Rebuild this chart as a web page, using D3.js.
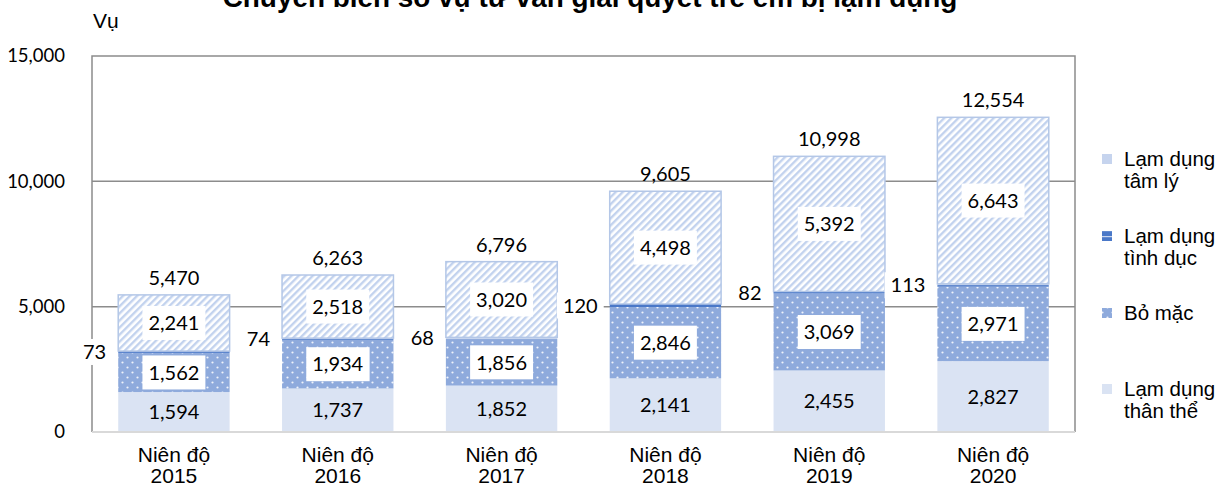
<!DOCTYPE html>
<html>
<head>
<meta charset="utf-8">
<script src="https://cdn.jsdelivr.net/npm/d3@7"></script>
<style>
  body { margin: 0; background: #fff; }
  svg { display: block; }
</style>
</head>
<body>
<svg id="chart" width="1224" height="486"></svg>
<script>
'use strict';

// data
const years = ['2015', '2016', '2017', '2018', '2019', '2020'];
const thanThe = [1594, 1737, 1852, 2141, 2455, 2827];
const boMac = [1562, 1934, 1856, 2846, 3069, 2971];
const tinhDuc = [73, 74, 68, 120, 82, 113];
const tamLy = [2241, 2518, 3020, 4498, 5392, 6643];
const yTicks = [0, 5000, 10000, 15000];

const seriesKeys = ['thanThe', 'boMac', 'tinhDuc', 'tamLy'];
const legendLabels = [
  { key: 'tamLy', lines: ['Lạm dụng', 'tâm lý'], y: 159 },
  { key: 'tinhDuc', lines: ['Lạm dụng', 'tình dục'], y: 236 },
  { key: 'boMac', lines: ['Bỏ mặc'], y: 313 },
  { key: 'thanThe', lines: ['Lạm dụng', 'thân thể'], y: 389 }
];

const rows = years.map((y, i) => ({
  year: y,
  thanThe: thanThe[i],
  boMac: boMac[i],
  tinhDuc: tinhDuc[i],
  tamLy: tamLy[i]
}));

const svg = d3.select('#chart');
const plot = { left: 92, right: 1075, top: 56, bottom: 432 };

const fmt = d3.format(',');
const numFont = 'Lato, "Open Sans", sans-serif';
const txtFont = '"Liberation Sans", Arial, sans-serif';

// patterns
const defs = svg.append('defs');

const stripes = defs.append('pattern')
  .attr('id', 'pat-tamLy')
  .attr('patternUnits', 'userSpaceOnUse')
  .attr('width', 5).attr('height', 5)
  .attr('patternTransform', 'rotate(45)');
stripes.append('rect').attr('width', 5).attr('height', 5).attr('fill', '#ffffff');
stripes.append('rect').attr('width', 2.4).attr('height', 5).attr('fill', '#c2d2ee');

const dots = defs.append('pattern')
  .attr('id', 'pat-boMac')
  .attr('patternUnits', 'userSpaceOnUse')
  .attr('width', 10).attr('height', 10);
dots.append('rect').attr('width', 10).attr('height', 10).attr('fill', '#8eaadc');
dots.append('circle').attr('cx', 2.5).attr('cy', 2.5).attr('r', 1.1).attr('fill', '#eef2fa');
dots.append('circle').attr('cx', 7.5).attr('cy', 7.5).attr('r', 1.1).attr('fill', '#eef2fa');

const weave = defs.append('pattern')
  .attr('id', 'pat-tinhDuc')
  .attr('patternUnits', 'userSpaceOnUse')
  .attr('width', 6).attr('height', 6);
weave.append('rect').attr('width', 6).attr('height', 6).attr('fill', '#4a78c8');
weave.append('rect').attr('x', 0).attr('y', 2).attr('width', 6).attr('height', 1.2).attr('fill', '#c9d6ef');

const fills = {
  thanThe: '#dae3f3',
  boMac: 'url(#pat-boMac)',
  tinhDuc: 'url(#pat-tinhDuc)',
  tamLy: 'url(#pat-tamLy)'
};

// scales
const x = d3.scaleBand()
  .domain(years)
  .range([plot.left, plot.right])
  .paddingInner(0.32)
  .paddingOuter(0.16);

const y = d3.scaleLinear()
  .domain([0, 15000])
  .range([plot.bottom, plot.top]);

// title (partly cut off at the top, as in the source)
const title = svg.append('text')
  .attr('x', 590).attr('y', 7)
  .attr('text-anchor', 'middle')
  .style('font-family', txtFont)
  .style('font-weight', 'bold')
  .style('font-size', '22px')
  .text('Chuyển biến số vụ tư vấn giải quyết trẻ em bị lạm dụng');
const titleLen = title.node().getComputedTextLength();
title.style('font-size', (22 * 735 / titleLen).toFixed(1) + 'px');

svg.append('text')
  .attr('x', 93).attr('y', 28)
  .style('font-family', txtFont)
  .style('font-size', '21px')
  .text('Vụ');

// gridlines
svg.append('g')
  .selectAll('line')
  .data(yTicks.filter(t => t > 0 && t < 15000))
  .join('line')
  .attr('x1', plot.left).attr('x2', plot.right)
  .attr('y1', d => y(d)).attr('y2', d => y(d))
  .attr('stroke', '#8c8c8c')
  .attr('stroke-width', 1.5);

// frame: left, top, right in gray; bottom lighter
svg.append('path')
  .attr('d', `M${plot.left},${plot.bottom}V${plot.top}H${plot.right}V${plot.bottom}`)
  .attr('fill', 'none')
  .attr('stroke', '#8c8c8c')
  .attr('stroke-width', 1.5);

// y axis labels
const yAxis = d3.axisLeft(y).tickValues(yTicks).tickFormat(fmt).tickSize(0).tickPadding(27);
const yAxisG = svg.append('g')
  .attr('transform', `translate(${plot.left},0)`)
  .call(yAxis);
yAxisG.select('.domain').remove();
yAxisG.selectAll('text')
  .style('font-family', numFont)
  .style('font-size', '18.5px')
  .attr('fill', '#000');

// stacked bars
const stack = d3.stack().keys(seriesKeys);
const stacked = stack(rows);

const barsG = svg.append('g');
stacked.forEach(layer => {
  barsG.append('g')
    .selectAll('rect')
    .data(layer)
    .join('rect')
    .attr('x', d => x(d.data.year))
    .attr('width', x.bandwidth())
    .attr('y', d => y(d[1]))
    .attr('height', d => y(d[0]) - y(d[1]))
    .attr('fill', fills[layer.key])
    .attr('stroke', layer.key === 'tamLy' ? '#b4c7e7' : 'none')
    .attr('stroke-width', 1.5);
});

// bottom axis line
svg.append('line')
  .attr('x1', plot.left).attr('x2', plot.right)
  .attr('y1', plot.bottom).attr('y2', plot.bottom)
  .attr('stroke', '#d9d9d9')
  .attr('stroke-width', 2);

// data labels inside segments
const labelsG = svg.append('g')
  .style('font-family', numFont)
  .style('font-size', '20px');

function boxedLabel(g, cx, cy, text, anchor, boxed, h) {
  const t = g.append('text')
    .attr('x', cx).attr('y', cy)
    .attr('dy', '0.36em')
    .attr('text-anchor', anchor)
    .text(text);
  if (boxed) {
    const bb = t.node().getBBox();
    g.insert('rect', () => t.node())
      .attr('x', bb.x - 6).attr('y', cy - h / 2)
      .attr('width', bb.width + 12).attr('height', h)
      .attr('fill', '#fff');
  }
}

stacked.forEach(layer => {
  layer.forEach(d => {
    const cx = x(d.data.year) + x.bandwidth() / 2;
    const cy = (y(d[0]) + y(d[1])) / 2;
    const v = d[1] - d[0];
    if (layer.key === 'tinhDuc') {
      boxedLabel(labelsG, x(d.data.year) - 12, cy, fmt(v), 'end', true, 26);
    } else {
      boxedLabel(labelsG, cx, cy, fmt(v), 'middle', layer.key !== 'thanThe', 34);
    }
  });
});

// totals above bars
const topLayer = stacked[stacked.length - 1];
labelsG.append('g')
  .selectAll('text')
  .data(topLayer)
  .join('text')
  .attr('x', d => x(d.data.year) + x.bandwidth() / 2)
  .attr('y', d => y(d[1]) - 10)
  .attr('text-anchor', 'middle')
  .text(d => fmt(d[1]));

// category labels
const xAxisG = svg.append('g');
years.forEach(yr => {
  const t = xAxisG.append('text')
    .attr('x', x(yr) + x.bandwidth() / 2)
    .attr('y', 462)
    .attr('text-anchor', 'middle')
    .style('font-family', txtFont)
    .style('font-size', '21px');
  t.append('tspan').attr('x', x(yr) + x.bandwidth() / 2).text('Niên độ');
  t.append('tspan').attr('x', x(yr) + x.bandwidth() / 2).attr('dy', 21).text(yr);
});

// legend
const legend = svg.append('g')
  .style('font-family', txtFont)
  .style('font-size', '20.5px');
legendLabels.forEach(item => {
  legend.append('rect')
    .attr('x', 1102).attr('y', item.y - 5)
    .attr('width', 10).attr('height', 10)
    .attr('fill', item.key === 'tamLy' ? '#c6d4ee' : fills[item.key]);
  const t = legend.append('text').attr('x', 1124).attr('y', item.y + 7);
  item.lines.forEach((ln, i) => {
    t.append('tspan').attr('x', 1124).attr('dy', i === 0 ? 0 : 22).text(ln);
  });
});
</script>
</body>
</html>
